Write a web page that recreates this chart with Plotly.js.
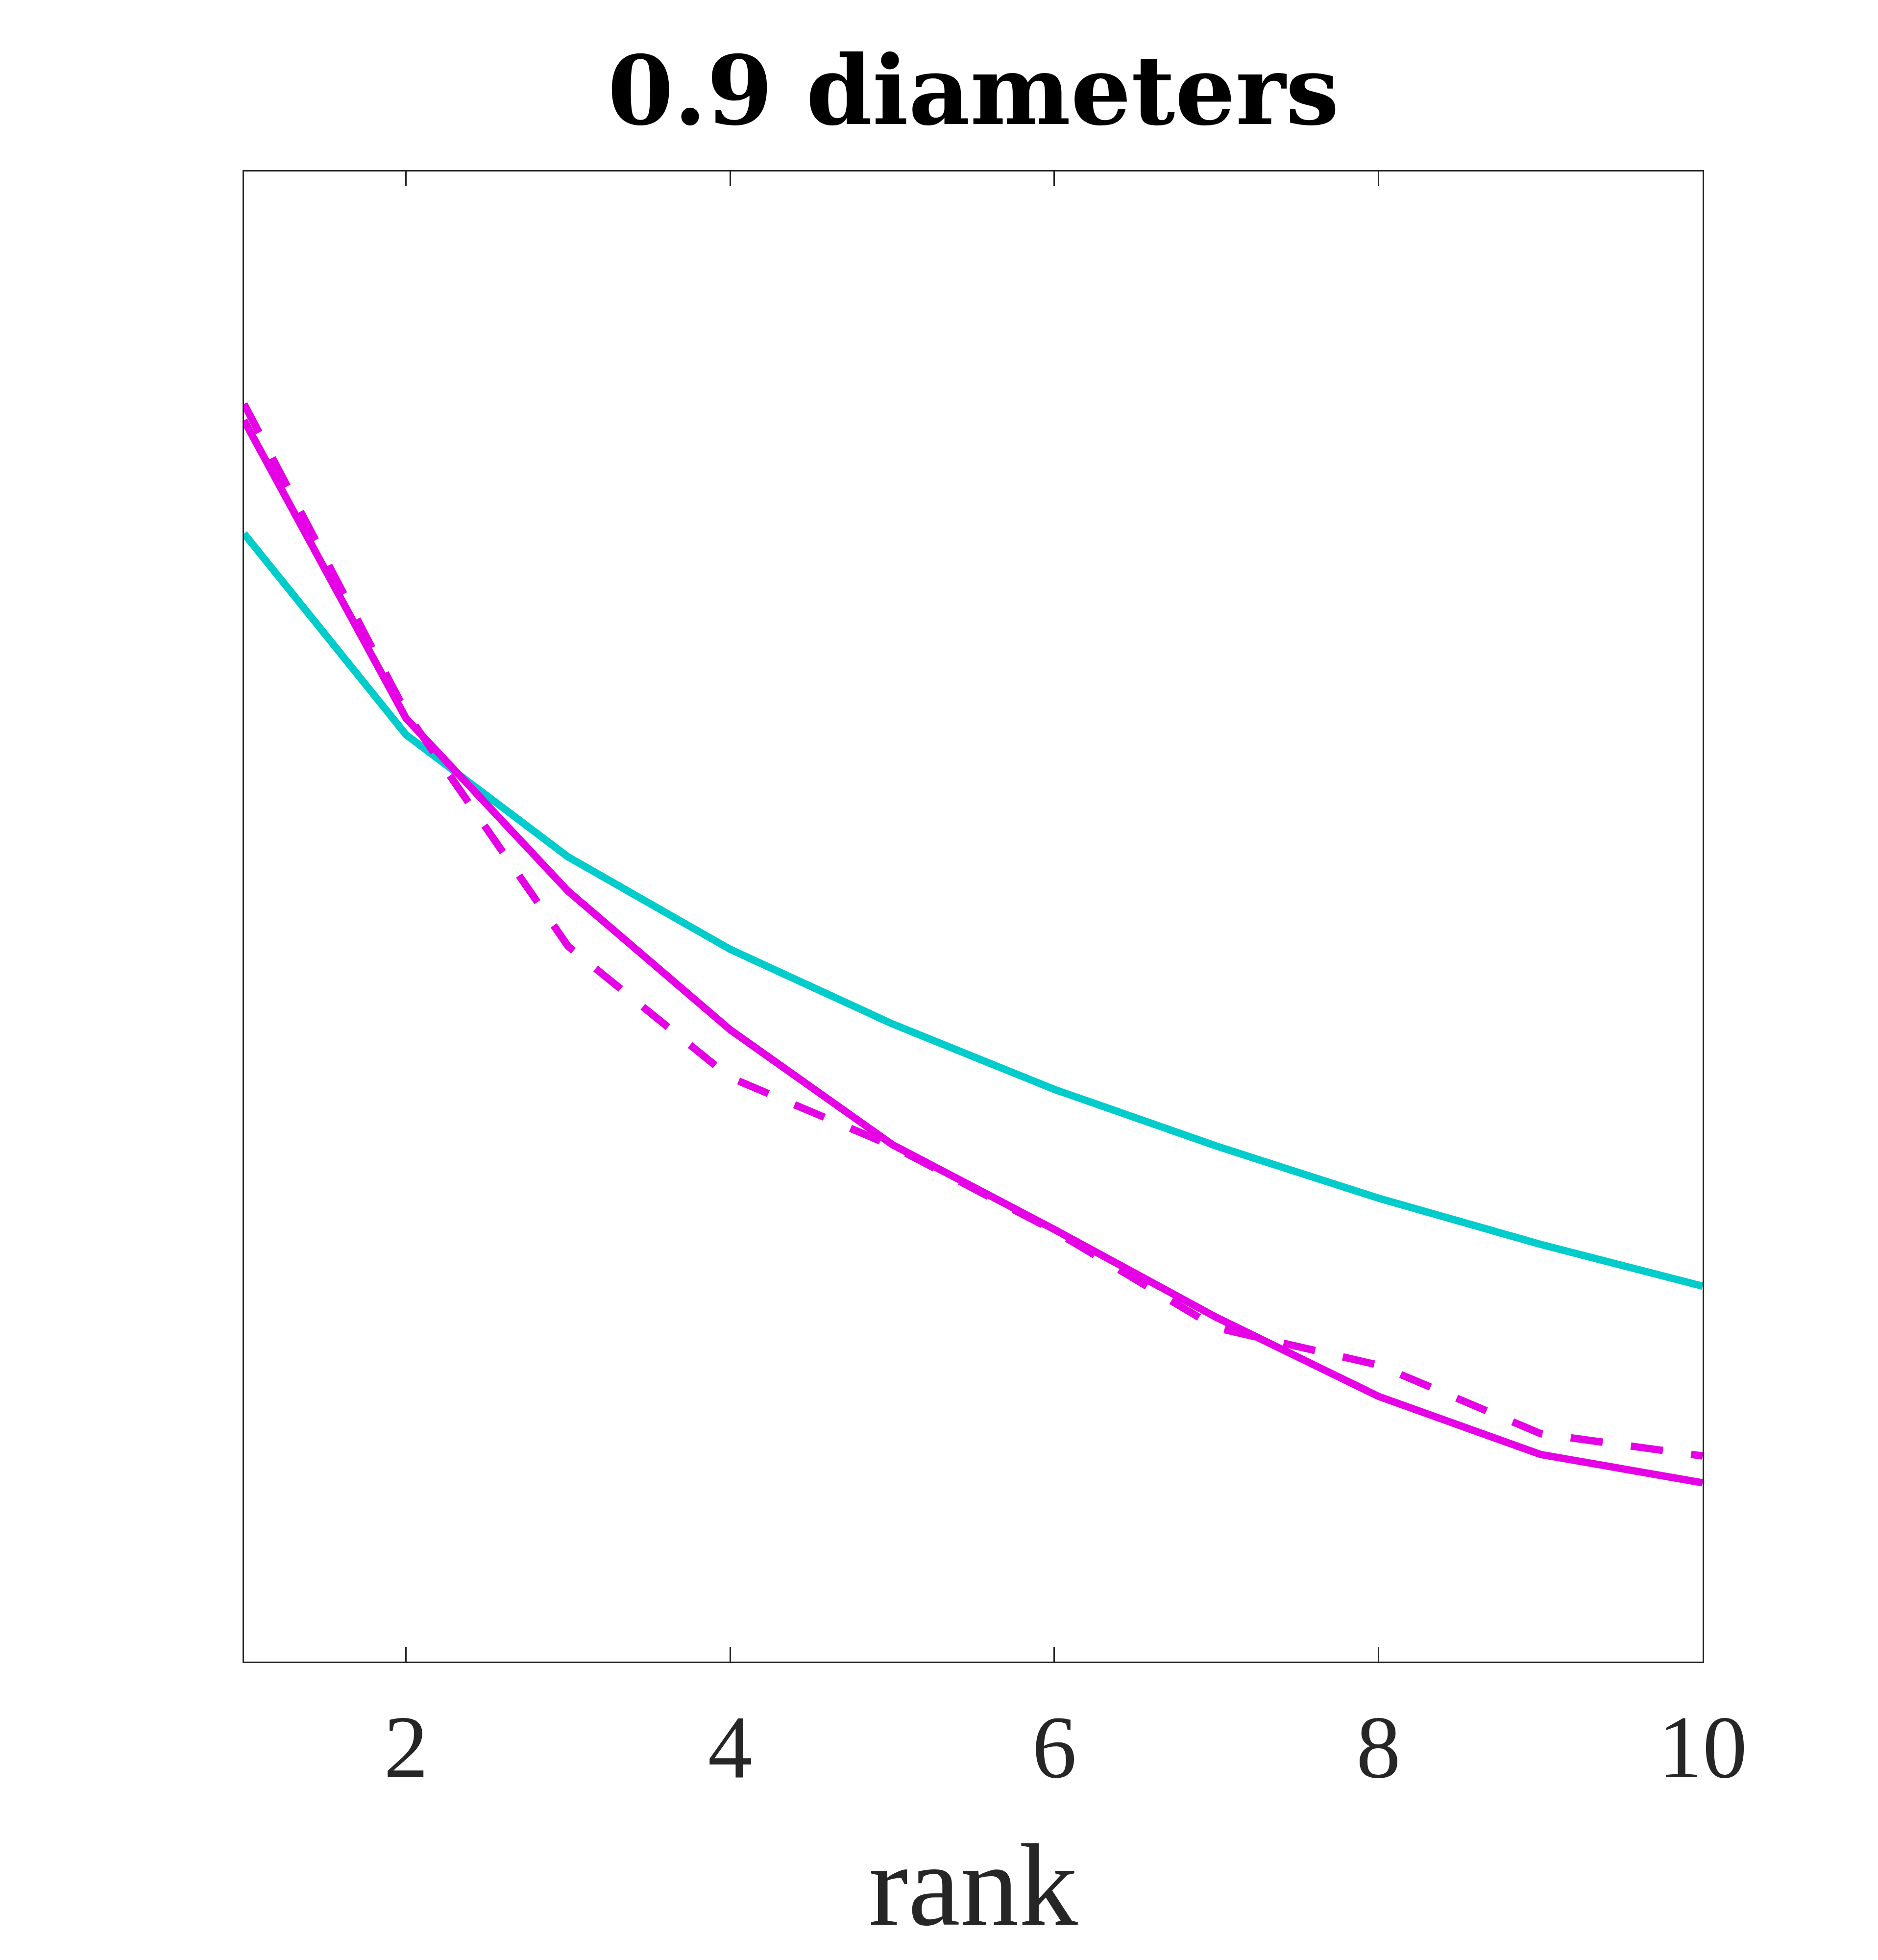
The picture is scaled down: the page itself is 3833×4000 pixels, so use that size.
<!DOCTYPE html>
<html>
<head>
<meta charset="utf-8">
<script src="https://cdn.plot.ly/plotly-3.0.1.min.js"></script>
<style>html,body{margin:0;padding:0;background:#fff;}</style>
</head>
<body>
<div id="chart" style="width:3833px;height:4000px;"></div>
<script>
// rank values on x
const rank = [1, 2, 3, 4, 5, 6, 7, 8, 9, 10];
// series values (relative scale, y axis has no labels)
const cyanSeries = [0.757, 0.622, 0.540, 0.478, 0.428, 0.384, 0.346, 0.311, 0.280, 0.252];
const magentaSolid = [0.833, 0.633, 0.517, 0.424, 0.347, 0.290, 0.231, 0.178, 0.139, 0.120];
const magentaDashed = [0.844, 0.637, 0.480, 0.392, 0.346, 0.289, 0.224, 0.199, 0.153, 0.138];
const xTickVals = [2, 4, 6, 8, 10];
const xTickText = ['2', '4', '6', '8', '10'];

const axisColor = '#262626';
const cyan = 'rgb(0,204,204)';
const magenta = 'rgb(230,0,230)';

const traces = [
  {x: rank, y: cyanSeries, type: 'scatter', mode: 'lines',
   line: {color: cyan, width: 15}, showlegend: false},
  {x: rank, y: magentaSolid, type: 'scatter', mode: 'lines',
   line: {color: magenta, width: 15}, showlegend: false},
  {x: rank, y: magentaDashed, type: 'scatter', mode: 'lines',
   line: {color: magenta, width: 15, dash: '66px,58px'}, showlegend: false}
];

const layout = {
  width: 3833, height: 4000,
  margin: {l: 498, r: 358, t: 350, b: 609, pad: 0},
  paper_bgcolor: '#ffffff', plot_bgcolor: '#ffffff',
  title: {
    text: '<b>0.9 diameters</b>',
    font: {family: 'DejaVu Serif', size: 194, color: '#000000'},
    x: 0.5, xref: 'paper', xanchor: 'center',
    y: 1 - 185/4000, yref: 'container', yanchor: 'middle'
  },
  xaxis: {
    range: [1, 10],
    tickvals: xTickVals, ticktext: xTickText,
    ticks: 'inside', ticklen: 30, tickwidth: 3, tickcolor: axisColor,
    showline: true, linecolor: axisColor, linewidth: 3, mirror: 'ticks',
    showgrid: false, zeroline: false,
    tickfont: {family: 'Liberation Serif', size: 182, color: axisColor},
    ticklabelstandoff: 15,
    title: {text: 'rank', font: {family: 'Liberation Serif', size: 240, color: axisColor}, standoff: 95}
  },
  yaxis: {
    range: [0, 1],
    showticklabels: false, ticks: '',
    showline: true, linecolor: axisColor, linewidth: 3, mirror: true,
    showgrid: false, zeroline: false
  }
};

Plotly.newPlot('chart', traces, layout, {displayModeBar: false, staticPlot: true});
</script>
</body>
</html>
